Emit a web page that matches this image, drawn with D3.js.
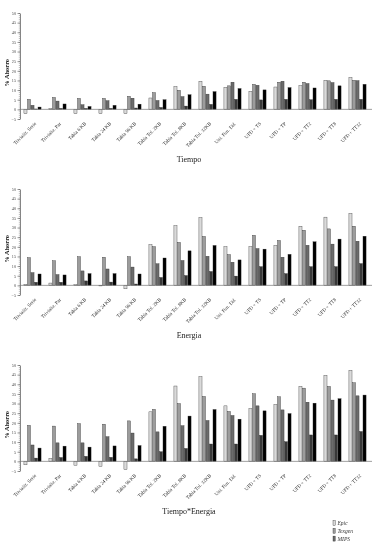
<!DOCTYPE html>
<html>
<head>
<meta charset="utf-8">
<script src="https://cdn.jsdelivr.net/npm/d3@7/dist/d3.min.js"></script>
<style>
  body { margin: 0; background: #fff; }
  svg { display: block; font-family: "Liberation Serif", "DejaVu Serif", serif; filter: grayscale(1); }
</style>
</head>
<body>
<svg id="chart" width="374" height="547"></svg>
<script>
// categorias (eje x)
var categories = ['Trivializ. Serie', 'Trivializ. Par', 'Tabla 6 KB', 'Tabla 24 KB', 'Tabla 96 KB',
    'Tabla Tol. 2KB', 'Tabla Tol. 8KB', 'Tabla Tol. 32KB', 'Uni. Fun. Dif.',
    'UFD + TS', 'UFD + TP', 'UFD + TT2', 'UFD + TT8', 'UFD + TT32']
var seriesNames = ['Epic', 'Texgen', 'MIPS', 'Serie 4', 'Serie 5']
var seriesColors = ['#dadada', '#9c9c9c', '#6b6b6b', '#383838', '#000000']
var legendNames = ['Epic', 'Texgen', 'MIPS']
var yTicks = [-5, 0, 5, 10, 15, 20, 25, 30, 35, 40, 45, 50]

// % ahorro, una fila por categoria, una columna por serie
var tiempo = [
    [-2.3, 5.2, 2.1, 0.2, 1.2],
    [0.4, 6.2, 4.3, 0.5, 2.8],
    [-2.3, 5.7, 2.4, 0.5, 1.5],
    [-2.3, 5.7, 4.5, 0.5, 2.1],
    [-2.3, 6.8, 5.8, 0.7, 2.7],
    [5.9, 8.7, 4.6, 1.0, 5.0],
    [11.8, 9.9, 6.6, 1.7, 7.6],
    [14.6, 12.0, 7.9, 2.6, 9.2],
    [11.4, 12.2, 14.1, 5.2, 10.8],
    [9.4, 13.0, 12.5, 4.9, 10.1],
    [11.6, 14.1, 14.6, 5.2, 11.3],
    [12.3, 14.1, 13.4, 5.0, 11.1],
    [15.1, 14.8, 13.9, 5.2, 12.2],
    [16.5, 15.1, 14.9, 5.2, 13.0]
]
var energia = [
    [0.5, 14.4, 6.6, 1.6, 5.9],
    [1.2, 12.8, 5.6, 1.6, 5.4],
    [0.3, 14.9, 7.5, 2.3, 6.1],
    [-0.3, 14.6, 8.5, 1.7, 6.1],
    [-1.8, 14.9, 9.5, 0.7, 5.9],
    [21.1, 20.1, 11.2, 4.1, 14.2],
    [30.9, 22.3, 12.9, 5.1, 17.9],
    [35.1, 25.4, 15.1, 7.2, 20.7],
    [20.0, 16.0, 12.0, 4.8, 13.2],
    [20.1, 26.0, 19.1, 9.7, 18.8],
    [20.7, 23.3, 14.6, 6.1, 16.1],
    [30.7, 28.6, 20.8, 9.7, 22.6],
    [35.4, 29.3, 21.4, 9.7, 24.0],
    [37.3, 30.7, 22.9, 11.3, 25.5]
]
var tiempoEnergia = [
    [-1.8, 18.7, 8.5, 1.7, 6.9],
    [1.5, 18.3, 9.6, 2.0, 7.9],
    [-2.0, 19.6, 9.6, 2.6, 7.4],
    [-2.6, 19.3, 12.8, 2.1, 8.0],
    [-4.3, 21.0, 14.7, 1.3, 8.2],
    [25.7, 27.0, 15.3, 5.0, 18.2],
    [39.1, 30.0, 18.5, 6.7, 23.5],
    [43.9, 33.7, 21.2, 9.0, 26.9],
    [28.8, 25.9, 23.8, 9.0, 21.9],
    [27.3, 35.1, 28.8, 13.5, 26.2],
    [29.5, 33.5, 26.7, 10.2, 24.8],
    [38.9, 38.0, 30.7, 13.7, 30.2],
    [44.6, 38.9, 31.8, 13.7, 32.5],
    [47.2, 40.8, 34.0, 15.5, 34.4]
]

var svg = d3.select('#chart')

var x0 = d3.scaleBand().domain(categories).range([20, 370]).paddingInner(0.28).paddingOuter(0.14)
var x1 = d3.scaleBand().domain(d3.range(seriesNames.length)).range([0, x0.bandwidth()]).padding(0.12)

function drawPanel(data, title, top) {
    // top = pixel del valor 50
    var y = d3.scaleLinear().domain([-5, 50]).range([top + 106, top])
    var g = svg.append('g')

    // eje y: ticks menores y mayores
    g.append('g').attr('transform', 'translate(20,0)')
        .call(d3.axisLeft(y).tickValues(d3.range(-5, 51, 1)).tickSize(1.2).tickFormat(''))
        .call(function (a) { a.select('.domain').remove() })
        .selectAll('line').attr('stroke', '#555').attr('stroke-width', 0.4)
    var ax = g.append('g').attr('transform', 'translate(20,0)')
        .call(d3.axisLeft(y).tickValues(yTicks).tickSize(2.5).tickPadding(1.5).tickSizeOuter(0))
    ax.select('.domain').attr('stroke', '#333').attr('stroke-width', 0.6)
    ax.selectAll('line').attr('stroke', '#333').attr('stroke-width', 0.5)
    ax.selectAll('text').attr('font-size', 4.2).attr('fill', '#444').attr('font-family', '"Liberation Serif", serif')

    // barras
    var groups = g.selectAll('.grp').data(data).enter().append('g')
        .attr('transform', function (d, i) { return 'translate(' + x0(categories[i]) + ',0)' })
    groups.selectAll('rect').data(function (d) { return d }).enter().append('rect')
        .attr('x', function (d, j) { return x1(j) })
        .attr('width', x1.bandwidth())
        .attr('y', function (d) { return y(Math.max(0, d)) })
        .attr('height', function (d) { return Math.abs(y(d) - y(0)) })
        .attr('fill', function (d, j) { return seriesColors[j] })
        .attr('stroke', '#2a2a2a')
        .attr('stroke-width', 0.35)

    // linea del cero
    g.append('line')
        .attr('x1', 20).attr('x2', 372)
        .attr('y1', y(0)).attr('y2', y(0))
        .attr('stroke', '#777').attr('stroke-width', 0.7)

    // etiquetas de categoria
    g.selectAll('.cat').data(categories).enter().append('text')
        .attr('transform', function (d) {
            return 'translate(' + (x0(d) + x0.bandwidth() / 2 + 4) + ',' + (y(-5) + 5) + ') rotate(-45)'
        })
        .attr('text-anchor', 'end')
        .attr('font-size', 5)
        .attr('fill', '#333')
        .text(function (d) { return d })

    // etiqueta eje y
    g.append('text')
        .attr('transform', 'translate(9,' + (y(20) + 2) + ') rotate(-90)')
        .attr('text-anchor', 'middle')
        .attr('font-size', 6.4)
        .attr('font-weight', 'bold')
        .attr('fill', '#222')
        .text('% Ahorro')

    // titulo
    g.append('text')
        .attr('x', 189).attr('y', y(-5) + 43)
        .attr('text-anchor', 'middle')
        .attr('font-size', 8)
        .attr('fill', '#222')
        .text(title)
}

drawPanel(tiempo, 'Tiempo', 13)
drawPanel(energia, 'Energia', 189)
drawPanel(tiempoEnergia, 'Tiempo*Energia', 365)

// leyenda
var legend = svg.append('g').attr('transform', 'translate(333,525)')
legendNames.forEach(function (name, i) {
    legend.append('rect')
        .attr('x', 0).attr('y', i * 7.8 - 4.5)
        .attr('width', 2.2).attr('height', 5)
        .attr('fill', seriesColors[i]).attr('stroke', '#222').attr('stroke-width', 0.35)
    legend.append('text')
        .attr('x', 4.5).attr('y', i * 7.8)
        .attr('font-size', 5.5)
        .attr('font-style', 'italic')
        .attr('fill', '#333')
        .text(name)
})
</script>
</body>
</html>
